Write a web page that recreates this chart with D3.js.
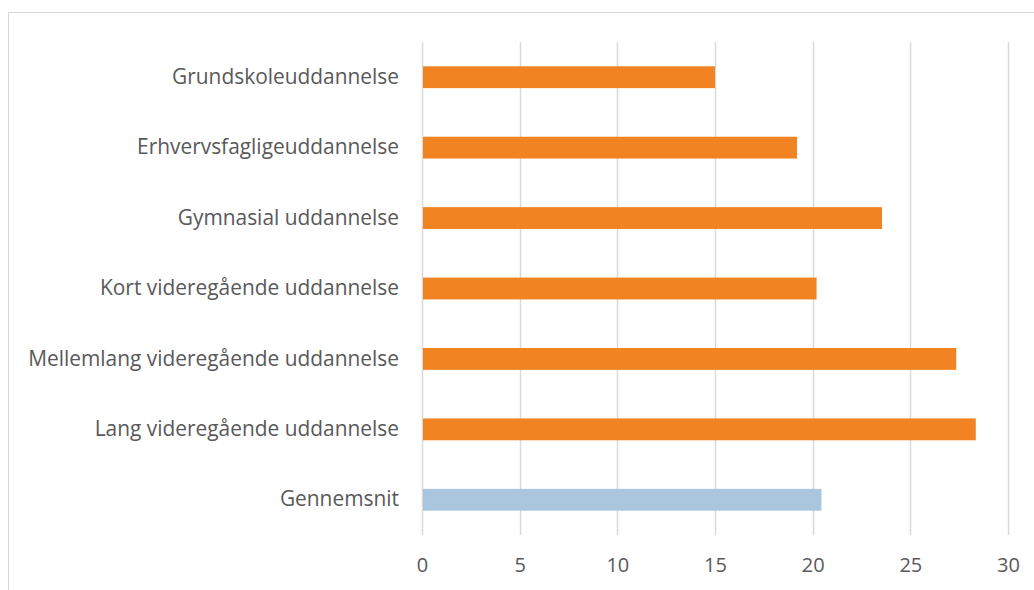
<!DOCTYPE html>
<html>
<head>
<meta charset="utf-8">
<script src="https://cdn.jsdelivr.net/npm/d3@7"></script>
<style>
  body { margin: 0; background: #fff; }
  text { font-family: "Open Sans", sans-serif; fill: #595959; }
</style>
</head>
<body>
<div id="chart"></div>
<script>
var categories = ["Grundskoleuddannelse", "Erhvervsfagligeuddannelse", "Gymnasial uddannelse",
                  "Kort videregående uddannelse", "Mellemlang videregående uddannelse",
                  "Lang videregående uddannelse", "Gennemsnit"];
var values = [15.0, 19.2, 23.55, 20.2, 27.35, 28.35, 20.45];
var xTicks = [0, 5, 10, 15, 20, 25, 30];

var W = 1034, H = 590;
var margin = {top: 42, right: 26, bottom: 55, left: 422},
    width = W - margin.left - margin.right,
    height = H - margin.top - margin.bottom;

var svg = d3.select("#chart")
  .append("svg")
    .attr("width", W)
    .attr("height", H);

// chart border (cut off at right and bottom)
svg.append("rect")
  .attr("x", 8.5).attr("y", 12.5)
  .attr("width", W).attr("height", H)
  .attr("fill", "none")
  .attr("stroke", "#d9d9d9")
  .attr("stroke-width", 1);

var g = svg.append("g")
  .attr("transform", "translate(" + margin.left + "," + margin.top + ")");

var x = d3.scaleLinear()
  .domain([0, 30])
  .range([0, width]);

var y = d3.scaleBand()
  .domain(categories)
  .range([0, height])
  .paddingInner(0.69)
  .paddingOuter(0.345);

// gridlines
g.selectAll(".grid")
  .data(xTicks)
  .enter()
  .append("line")
    .attr("x1", function(d) { return Math.round(x(d)) + 0.5; })
    .attr("x2", function(d) { return Math.round(x(d)) + 0.5; })
    .attr("y1", 0)
    .attr("y2", height)
    .attr("stroke", "#d9d9d9")
    .attr("stroke-width", 1.5);

// bars
g.selectAll(".bar")
  .data(values)
  .enter()
  .append("rect")
    .attr("x", x(0) + 1)
    .attr("y", function(d, i) { return y(categories[i]); })
    .attr("width", function(d) { return x(d) - x(0) - 1; })
    .attr("height", y.bandwidth())
    .attr("fill", function(d, i) { return categories[i] == "Gennemsnit" ? "#a9c6de" : "#f28322"; });

// x axis labels
var xAxis = g.append("g")
  .attr("transform", "translate(0," + height + ")")
  .call(d3.axisBottom(x).tickValues(xTicks).tickSize(0).tickPadding(23));
xAxis.select(".domain").remove();
xAxis.selectAll("text")
  .attr("font-size", "20px")
  .style("font-family", "'Open Sans', sans-serif")
  .attr("fill", "#595959");

// y axis labels
var yAxis = g.append("g")
  .call(d3.axisLeft(y).tickSize(0).tickPadding(23));
yAxis.select(".domain").remove();
yAxis.selectAll("text")
  .attr("font-size", "20.9px")
  .style("font-family", "'Open Sans', sans-serif")
  .attr("fill", "#595959");
</script>
</body>
</html>
